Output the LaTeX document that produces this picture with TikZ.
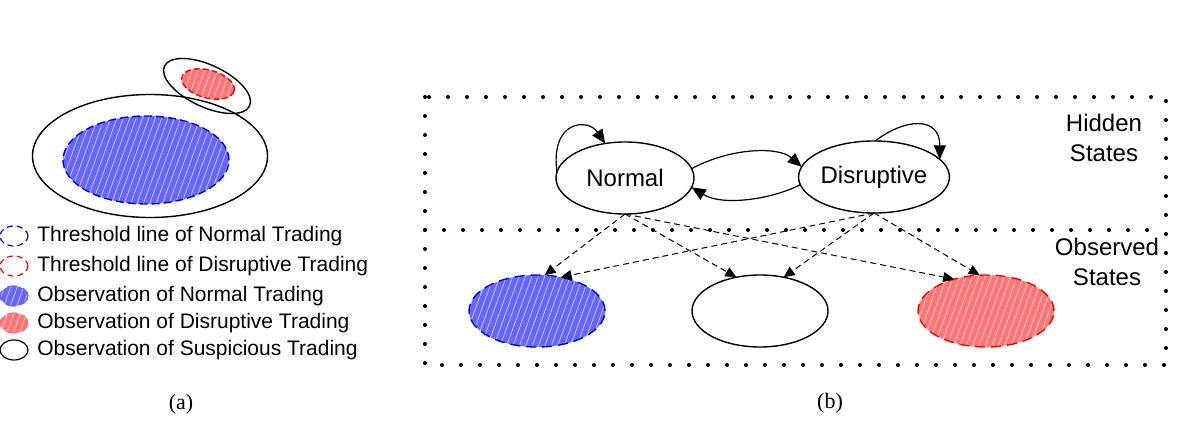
\documentclass[tikz,border=0pt]{standalone}
\usepackage{fontspec}
\setmainfont{Liberation Sans}
\newfontfamily\capfont{Liberation Serif}
\usetikzlibrary{arrows.meta, shapes.geometric, patterns.meta}
\definecolor{normfill}{RGB}{102,102,255}
\definecolor{disrfill}{RGB}{255,118,118}

\begin{document}
\begin{tikzpicture}[
  x=0.5pt, y=-0.5pt,
  oval/.style={ellipse, draw=black, line width=0.7pt, inner sep=0pt, outer sep=0pt},
  hatch/.style={pattern={Lines[angle=70, distance=3pt, line width=0.35pt]}, pattern color=white!70!#1},
  normobs/.style={oval, draw=blue, dash pattern=on 5pt off 3pt, preaction={fill=normfill}, hatch=normfill},
  disrobs/.style={oval, draw=red, dash pattern=on 5pt off 3pt, preaction={fill=disrfill}, hatch=disrfill},
  state/.style={oval, minimum width=69pt, minimum height=36pt, font=\fontsize{12}{14}\selectfont},
  obs/.style={minimum width=68pt, minimum height=36pt},
  icon/.style={minimum width=14pt, minimum height=10pt, line width=0.6pt},
  legtext/.style={anchor=west, inner sep=0pt, font=\fontsize{10.5}{12}\selectfont},
  dotbox/.style={line width=2pt, line cap=round, dash pattern=on 0pt off 9.5pt},
  arrow/.style={-{Triangle[length=7pt, width=6pt]}, line width=0.6pt},
  emit/.style={-{Triangle[length=5.5pt, width=5pt]}, line width=0.5pt, dash pattern=on 3pt off 2pt}
]
  \useasboundingbox (0,0) rectangle (1198,422);

  % (a) threshold regions
  \node[oval, minimum width=117.5pt, minimum height=61.5pt] (bigov) at (150,156) {};
  \node[normobs, dash pattern=on 4pt off 2pt, minimum width=83pt, minimum height=44pt] (blueov) at (146,160) {};
  \node[oval, rotate=-25, minimum width=47pt, minimum height=21pt] (smallov) at (207,86) {};
  \node[disrobs, dash pattern=on 3pt off 1.5pt, rotate=-15, minimum width=27pt, minimum height=14pt] (redov) at (208,84) {};

  % legend
  \node[oval, icon, draw=blue, dash pattern=on 3pt off 2pt] (i1) at (14,236) {};
  \node[oval, icon, draw=red, dash pattern=on 3pt off 2pt] (i2) at (14,266) {};
  \node[normobs, icon, draw=normfill] (i3) at (14,296) {};
  \node[disrobs, icon, draw=disrfill] (i4) at (14,323) {};
  \node[oval, icon] (i5) at (14,350) {};
  \node[legtext] (t1) at (37,236) {Threshold line of Normal Trading};
  \node[legtext] (t2) at (37,266) {Threshold line of Disruptive Trading};
  \node[legtext] (t3) at (37,296) {Observation of Normal Trading};
  \node[legtext] (t4) at (37,323) {Observation of Disruptive Trading};
  \node[legtext] (t5) at (37,350) {Observation of Suspicious Trading};

  \node[font=\capfont\fontsize{11}{13}\selectfont] (capa) at (181,404) {(a)};

  % (b) hidden and observed states
  \draw[dotbox] (425,97) rectangle (1166,365);
  \draw[dotbox] (425,230) -- (1166,230);

  \node[state] (normal) at (625,178) {Normal};
  \node[state] (disr) at (874,177) {Disruptive};
  \node[normobs, obs] (obsn) at (537,311) {};
  \node[oval, obs] (obss) at (760,311) {};
  \node[disrobs, obs] (obsd) at (986,311) {};

  \node[align=center, font=\fontsize{12}{15}\selectfont] (hidlab) at (1104,138) {Hidden\\States};
  \node[align=center, font=\fontsize{12}{15}\selectfont] (obslab) at (1107,262) {Observed\\States};

  \draw[arrow] (normal.175) .. controls (550,120) and (588,118) .. (normal.120);
  \draw[arrow] (disr.88) .. controls (905,118) and (940,116) .. (disr.15);
  \draw[arrow] (normal.8) .. controls (730,148) and (778,146) .. (disr.172);
  \draw[arrow] (disr.186) .. controls (770,200) and (722,206) .. (normal.352);

  \draw[emit] (normal.south) -- (obsn.78);
  \draw[emit] (normal.south) -- (obss.125);
  \draw[emit] (normal.south) -- (obsd.135);
  \draw[emit] (disr.south) -- (obsn.55);
  \draw[emit] (disr.south) -- (obss.55);
  \draw[emit] (disr.south) -- (obsd.100);

  \node[font=\capfont\fontsize{11}{13}\selectfont] (capb) at (830,403) {(b)};
\end{tikzpicture}
\end{document}
